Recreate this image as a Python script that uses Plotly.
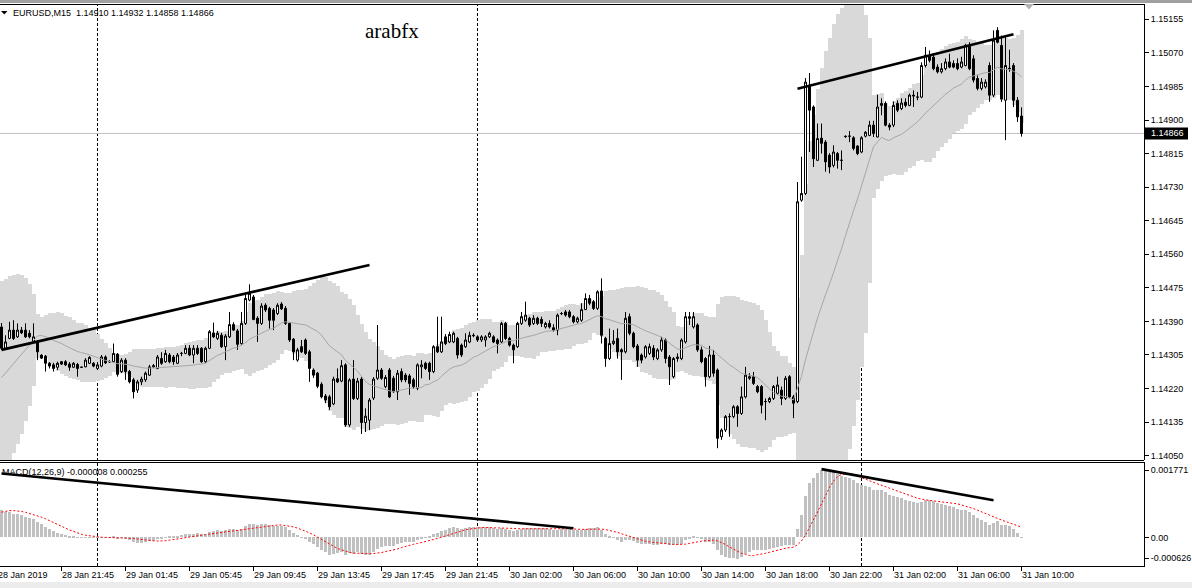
import numpy as np
import pandas as pd
import plotly.graph_objects as go

# ---------------- data ----------------
symbol = "EURUSD,M15"
start_time = "2019-01-28 18:00"
end_time = "2019-01-31 10:00"
missing_time = "2019-01-29 23:45"

open_ = [
1.14376, 1.14322, 1.14347, 1.14368, 1.14351, 1.14368, 1.14368, 1.14360, 1.14338, 1.14338,
1.14305, 1.14302, 1.14284, 1.14280, 1.14274, 1.14288, 1.14288, 1.14282, 1.14274, 1.14281,
1.14274, 1.14275, 1.14284, 1.14284, 1.14271, 1.14277, 1.14300, 1.14288, 1.14288, 1.14307,
1.14263, 1.14292, 1.14263, 1.14242, 1.14216, 1.14237, 1.14242, 1.14254, 1.14275, 1.14271,
1.14296, 1.14288, 1.14305, 1.14300, 1.14284, 1.14309, 1.14309, 1.14322, 1.14305, 1.14322,
1.14322, 1.14288, 1.14322, 1.14361, 1.14347, 1.14355, 1.14326, 1.14351, 1.14382, 1.14366,
1.14334, 1.14385, 1.14444, 1.14452, 1.14398, 1.14385, 1.14431, 1.14423, 1.14419, 1.14410,
1.14434, 1.14423, 1.14385, 1.14345, 1.14292, 1.14326, 1.14343, 1.14313, 1.14267, 1.14259,
1.14231, 1.14201, 1.14199, 1.14181, 1.14245, 1.14239, 1.14280, 1.14128, 1.14244, 1.14195,
1.14244, 1.14134, 1.14140, 1.14196, 1.14246, 1.14267, 1.14225, 1.14267, 1.14246, 1.14212,
1.14263, 1.14254, 1.14252, 1.14242, 1.14221, 1.14275, 1.14284, 1.14284, 1.14263, 1.14326,
1.14313, 1.14351, 1.14338, 1.14338, 1.14347, 1.14330, 1.14326, 1.14338, 1.14355, 1.14351,
1.14343, 1.14343, 1.14351, 1.14351, 1.14343, 1.14338, 1.14385, 1.14347, 1.14330, 1.14326,
1.14385, 1.14393, 1.14398, 1.14385, 1.14398, 1.14395, 1.14376, 1.14385, 1.14374, 1.14368,
1.14410, 1.14414, 1.14414, 1.14402, 1.14389, 1.14393, 1.14420, 1.14448, 1.14440, 1.14423,
1.14467, 1.14347, 1.14296, 1.14334, 1.14347, 1.14318, 1.14313, 1.14402, 1.14360, 1.14328,
1.14305, 1.14300, 1.14309, 1.14322, 1.14296, 1.14318, 1.14343, 1.14300, 1.14250, 1.14296,
1.14296, 1.14338, 1.14402, 1.14376, 1.14381, 1.14318, 1.14296, 1.14250, 1.14305, 1.14267,
1.14098, 1.14115, 1.14149, 1.14149, 1.14174, 1.14157, 1.14199, 1.14246, 1.14250, 1.14225,
1.14225, 1.14187, 1.14187, 1.14195, 1.14208, 1.14216, 1.14195, 1.14250, 1.14199, 1.14187,
1.14697, 1.14714, 1.14988, 1.14933, 1.14798, 1.14854, 1.14844, 1.14811, 1.14785, 1.14815,
1.14798, 1.14859, 1.14859, 1.14855, 1.14834, 1.14819, 1.14859, 1.14861, 1.14887, 1.14857,
1.14937, 1.14942, 1.14887, 1.14887, 1.14942, 1.14929, 1.14945, 1.14937, 1.14963, 1.14958,
1.14958, 1.15038, 1.15064, 1.15059, 1.15034, 1.15022, 1.15030, 1.15047, 1.15043, 1.15043,
1.15034, 1.15038, 1.15089, 1.15055, 1.15005, 1.14980, 1.14984, 1.15038, 1.14963, 1.15127,
1.15089, 1.14950, 1.15031, 1.15038, 1.14950, 1.14910,
]

high = [
1.14386, 1.14355, 1.14389, 1.14393, 1.14385, 1.14376, 1.14385, 1.14368, 1.14385, 1.14343,
1.14307, 1.14305, 1.14287, 1.14285, 1.14288, 1.14290, 1.14292, 1.14287, 1.14287, 1.14285,
1.14275, 1.14297, 1.14302, 1.14287, 1.14287, 1.14305, 1.14304, 1.14292, 1.14334, 1.14310,
1.14297, 1.14297, 1.14267, 1.14247, 1.14242, 1.14250, 1.14263, 1.14280, 1.14282, 1.14305,
1.14312, 1.14318, 1.14310, 1.14305, 1.14310, 1.14313, 1.14330, 1.14330, 1.14330, 1.14330,
1.14325, 1.14326, 1.14368, 1.14387, 1.14366, 1.14361, 1.14358, 1.14414, 1.14388, 1.14371,
1.14414, 1.14457, 1.14484, 1.14457, 1.14403, 1.14436, 1.14436, 1.14427, 1.14424, 1.14436,
1.14439, 1.14429, 1.14388, 1.14348, 1.14323, 1.14343, 1.14347, 1.14318, 1.14271, 1.14262,
1.14236, 1.14206, 1.14204, 1.14250, 1.14271, 1.14292, 1.14284, 1.14246, 1.14292, 1.14247,
1.14249, 1.14170, 1.14196, 1.14249, 1.14381, 1.14272, 1.14254, 1.14272, 1.14252, 1.14267,
1.14271, 1.14259, 1.14257, 1.14247, 1.14284, 1.14292, 1.14288, 1.14288, 1.14330, 1.14402,
1.14402, 1.14358, 1.14364, 1.14364, 1.14351, 1.14334, 1.14360, 1.14364, 1.14360, 1.14355,
1.14355, 1.14355, 1.14364, 1.14355, 1.14347, 1.14389, 1.14389, 1.14351, 1.14334, 1.14389,
1.14414, 1.14440, 1.14402, 1.14406, 1.14402, 1.14402, 1.14389, 1.14393, 1.14383, 1.14410,
1.14414, 1.14419, 1.14419, 1.14406, 1.14402, 1.14436, 1.14461, 1.14457, 1.14444, 1.14469,
1.14499, 1.14351, 1.14372, 1.14368, 1.14372, 1.14322, 1.14414, 1.14410, 1.14364, 1.14333,
1.14309, 1.14330, 1.14334, 1.14330, 1.14322, 1.14351, 1.14347, 1.14305, 1.14300, 1.14309,
1.14347, 1.14414, 1.14414, 1.14414, 1.14385, 1.14326, 1.14300, 1.14328, 1.14318, 1.14271,
1.14119, 1.14153, 1.14157, 1.14178, 1.14178, 1.14225, 1.14275, 1.14259, 1.14262, 1.14229,
1.14229, 1.14195, 1.14199, 1.14229, 1.14250, 1.14225, 1.14252, 1.14254, 1.14204, 1.14743,
1.14807, 1.15006, 1.15019, 1.14937, 1.14891, 1.14891, 1.14849, 1.14816, 1.14836, 1.14819,
1.14823, 1.14861, 1.14872, 1.14859, 1.14836, 1.14859, 1.14872, 1.14898, 1.14898, 1.14964,
1.14955, 1.14947, 1.14892, 1.14947, 1.14950, 1.14955, 1.14955, 1.14967, 1.14975, 1.14971,
1.15046, 1.15085, 1.15076, 1.15069, 1.15041, 1.15044, 1.15056, 1.15068, 1.15051, 1.15056,
1.15060, 1.15093, 1.15097, 1.15064, 1.15013, 1.15006, 1.15003, 1.15046, 1.15127, 1.15135,
1.15114, 1.15110, 1.15078, 1.15044, 1.14958, 1.14932,
]

low = [
1.14318, 1.14320, 1.14345, 1.14343, 1.14348, 1.14358, 1.14348, 1.14347, 1.14337, 1.14292,
1.14295, 1.14263, 1.14271, 1.14263, 1.14267, 1.14280, 1.14277, 1.14265, 1.14272, 1.14250,
1.14272, 1.14274, 1.14282, 1.14274, 1.14267, 1.14274, 1.14282, 1.14285, 1.14285, 1.14250,
1.14259, 1.14242, 1.14233, 1.14195, 1.14209, 1.14229, 1.14237, 1.14252, 1.14272, 1.14269,
1.14280, 1.14285, 1.14284, 1.14280, 1.14282, 1.14302, 1.14307, 1.14302, 1.14284, 1.14305,
1.14285, 1.14284, 1.14320, 1.14348, 1.14343, 1.14323, 1.14292, 1.14348, 1.14366, 1.14318,
1.14330, 1.14381, 1.14441, 1.14393, 1.14338, 1.14381, 1.14414, 1.14372, 1.14368, 1.14406,
1.14419, 1.14381, 1.14338, 1.14292, 1.14288, 1.14310, 1.14305, 1.14237, 1.14247, 1.14221,
1.14195, 1.14183, 1.14166, 1.14178, 1.14234, 1.14236, 1.14123, 1.14123, 1.14191, 1.14191,
1.14105, 1.14110, 1.14115, 1.14191, 1.14242, 1.14242, 1.14221, 1.14196, 1.14209, 1.14191,
1.14236, 1.14236, 1.14204, 1.14219, 1.14216, 1.14246, 1.14267, 1.14242, 1.14259, 1.14310,
1.14310, 1.14330, 1.14335, 1.14335, 1.14296, 1.14300, 1.14323, 1.14335, 1.14350, 1.14338,
1.14338, 1.14326, 1.14348, 1.14335, 1.14309, 1.14335, 1.14343, 1.14326, 1.14284, 1.14323,
1.14381, 1.14389, 1.14376, 1.14381, 1.14381, 1.14376, 1.14372, 1.14372, 1.14364, 1.14355,
1.14406, 1.14402, 1.14398, 1.14385, 1.14385, 1.14389, 1.14419, 1.14431, 1.14419, 1.14419,
1.14334, 1.14275, 1.14292, 1.14330, 1.14296, 1.14242, 1.14309, 1.14355, 1.14322, 1.14275,
1.14284, 1.14296, 1.14305, 1.14292, 1.14292, 1.14313, 1.14284, 1.14229, 1.14246, 1.14288,
1.14292, 1.14334, 1.14381, 1.14372, 1.14313, 1.14284, 1.14225, 1.14246, 1.14250, 1.14069,
1.14090, 1.14110, 1.14098, 1.14145, 1.14123, 1.14153, 1.14195, 1.14242, 1.14229, 1.14208,
1.14157, 1.14140, 1.14183, 1.14191, 1.14204, 1.14178, 1.14191, 1.14196, 1.14145, 1.14183,
1.14693, 1.14710, 1.14819, 1.14781, 1.14796, 1.14815, 1.14769, 1.14765, 1.14780, 1.14777,
1.14773, 1.14855, 1.14844, 1.14823, 1.14811, 1.14816, 1.14856, 1.14859, 1.14857, 1.14856,
1.14912, 1.14884, 1.14874, 1.14882, 1.14920, 1.14925, 1.14932, 1.14935, 1.14933, 1.14950,
1.14955, 1.15033, 1.15046, 1.15026, 1.15018, 1.15018, 1.15026, 1.15031, 1.15031, 1.15026,
1.15031, 1.15036, 1.15026, 1.14995, 1.14975, 1.14975, 1.14980, 1.14946, 1.14958, 1.15094,
1.14946, 1.14849, 1.15022, 1.14933, 1.14895, 1.14858,
]

close = [
1.14322, 1.14338, 1.14368, 1.14347, 1.14368, 1.14361, 1.14351, 1.14351, 1.14351, 1.14313,
1.14297, 1.14284, 1.14277, 1.14271, 1.14284, 1.14282, 1.14280, 1.14274, 1.14284, 1.14271,
1.14274, 1.14292, 1.14299, 1.14277, 1.14280, 1.14300, 1.14285, 1.14288, 1.14309, 1.14256,
1.14292, 1.14263, 1.14237, 1.14212, 1.14237, 1.14244, 1.14259, 1.14275, 1.14278, 1.14300,
1.14284, 1.14309, 1.14288, 1.14288, 1.14305, 1.14309, 1.14322, 1.14305, 1.14322, 1.14309,
1.14288, 1.14322, 1.14364, 1.14351, 1.14360, 1.14326, 1.14353, 1.14382, 1.14368, 1.14332,
1.14385, 1.14448, 1.14461, 1.14395, 1.14385, 1.14429, 1.14419, 1.14393, 1.14393, 1.14431,
1.14422, 1.14385, 1.14343, 1.14313, 1.14318, 1.14313, 1.14309, 1.14271, 1.14254, 1.14226,
1.14199, 1.14191, 1.14174, 1.14244, 1.14237, 1.14278, 1.14128, 1.14242, 1.14195, 1.14239,
1.14134, 1.14150, 1.14191, 1.14244, 1.14267, 1.14246, 1.14248, 1.14199, 1.14212, 1.14259,
1.14242, 1.14242, 1.14233, 1.14225, 1.14280, 1.14280, 1.14271, 1.14263, 1.14326, 1.14313,
1.14338, 1.14334, 1.14357, 1.14360, 1.14305, 1.14305, 1.14343, 1.14355, 1.14354, 1.14343,
1.14351, 1.14351, 1.14360, 1.14338, 1.14334, 1.14385, 1.14347, 1.14330, 1.14318, 1.14385,
1.14402, 1.14406, 1.14381, 1.14398, 1.14385, 1.14385, 1.14385, 1.14376, 1.14368, 1.14406,
1.14410, 1.14406, 1.14402, 1.14389, 1.14398, 1.14420, 1.14448, 1.14436, 1.14423, 1.14465,
1.14355, 1.14296, 1.14334, 1.14340, 1.14313, 1.14313, 1.14398, 1.14360, 1.14326, 1.14292,
1.14292, 1.14326, 1.14326, 1.14300, 1.14318, 1.14343, 1.14296, 1.14275, 1.14296, 1.14300,
1.14343, 1.14402, 1.14398, 1.14402, 1.14318, 1.14288, 1.14250, 1.14305, 1.14259, 1.14094,
1.14115, 1.14149, 1.14149, 1.14174, 1.14157, 1.14199, 1.14254, 1.14250, 1.14233, 1.14212,
1.14178, 1.14187, 1.14195, 1.14225, 1.14229, 1.14195, 1.14246, 1.14199, 1.14183, 1.14693,
1.14714, 1.14996, 1.14925, 1.14802, 1.14853, 1.14841, 1.14794, 1.14781, 1.14819, 1.14798,
1.14798, 1.14858, 1.14859, 1.14828, 1.14815, 1.14855, 1.14869, 1.14887, 1.14866, 1.14933,
1.14942, 1.14887, 1.14882, 1.14937, 1.14925, 1.14943, 1.14937, 1.14963, 1.14961, 1.14958,
1.15038, 1.15064, 1.15051, 1.15030, 1.15022, 1.15030, 1.15047, 1.15034, 1.15034, 1.15030,
1.15047, 1.15089, 1.15030, 1.15001, 1.14980, 1.14996, 1.14996, 1.14963, 1.15102, 1.15097,
1.14953, 1.15038, 1.15030, 1.14950, 1.14908, 1.14866,
]

# closes of the bars before the visible window (needed to warm up the indicators)
warm_close = [
1.14121, 1.14115, 1.14128, 1.14124, 1.14110, 1.14117, 1.14126, 1.14132, 1.14119, 1.14112,
1.14123, 1.14130, 1.14118, 1.14109, 1.14121, 1.14127, 1.14116, 1.14113, 1.14125, 1.14131,
1.14120, 1.14114, 1.14122, 1.14129, 1.14117, 1.14111, 1.14124, 1.14119, 1.14126, 1.14115,
1.14108, 1.14121, 1.14118, 1.14112, 1.14116, 1.14123, 1.14110, 1.14114, 1.14109, 1.14118,
1.14265, 1.14342, 1.14361, 1.14378, 1.14355, 1.14370, 1.14392, 1.14366, 1.14384, 1.14376,
]

price_ticks = [1.15155, 1.15070, 1.14985, 1.14900, 1.14815, 1.14730, 1.14645,
               1.14560, 1.14475, 1.14390, 1.14305, 1.14220, 1.14135, 1.14050]
macd_max_label = 0.001771
macd_min_label = -0.000626
macd_header = "MACD(12,26,9) -0.000008 0.000255"
watermark = "arabfx"

# user-drawn trend lines: (time, value) anchors
trend_price = [
    [("2019-01-28 18:00", 1.14318), ("2019-01-29 17:00", 1.14533)],
    [("2019-01-30 20:00", 1.14979), ("2019-01-31 09:30", 1.15117)],
]
trend_macd = [
    [("2019-01-28 18:00", 0.001563), ("2019-01-30 06:00", 0.000225)],
    [("2019-01-30 21:30", 0.001670), ("2019-01-31 08:15", 0.000908)],
]

# ---------------- derived ----------------
times = pd.date_range(start_time, end_time, freq="15min")
times = times[times != pd.Timestamp(missing_time)]
n = len(close)
idx = np.arange(n)
pos = {t: i for i, t in enumerate(times)}

nw = len(warm_close)
allc = pd.Series(warm_close + close)
ma = allc.rolling(20).mean()
sd = allc.rolling(20).std(ddof=0)
bb_mid = ma.values[nw:]
bb_up = (ma + 2 * sd).values[nw:]
bb_lo = (ma - 2 * sd).values[nw:]
ema12 = allc.ewm(span=12, adjust=False).mean()
ema26 = allc.ewm(span=26, adjust=False).mean()
macd_all = ema12 - ema26
sig_all = macd_all.rolling(9).mean()
macd = macd_all.values[nw:]
signal = sig_all.values[nw:]

# ---------------- layout geometry (pixels) ----------------
W, H = 1192, 588
ML, MR, MT, MB = 0, 48, 0, 22
PW, PH = W - ML - MR, H - MT - MB
BAR_PX = 4.0


def fx(x):
    return x / PW


def fy(y):
    return (PH - y) / PH


x0 = -1.5 / BAR_PX
x1 = x0 + PW / BAR_PX

MAIN_TOP, MAIN_BOT = 4, 460
SUB_TOP, SUB_BOT = 462, 566
# price scale: top/bottom tick label pixel rows
pk = (price_ticks[0] - price_ticks[-1]) / (455.7 - 19.3)


def price_at(y):
    return price_ticks[0] + (19.3 - y) * pk


mk = (macd_max_label - macd_min_label) / (563 - 465)


def macd_at(y):
    return macd_max_label - (y - 465) * mk


FONT = "Liberation Sans"
fs = 9

fig = go.Figure()

# Bollinger band fill (column per bar)
fig.add_trace(go.Bar(x=idx, y=bb_up - bb_lo, base=bb_lo, width=1.0,
                     marker=dict(color="#d9d9d9", line=dict(width=0)),
                     xaxis="x", yaxis="y", hoverinfo="skip"))
# Candles
fig.add_trace(go.Candlestick(
    x=idx, open=open_, high=high, low=low, close=close,
    increasing=dict(line=dict(color="black", width=1), fillcolor="white"),
    decreasing=dict(line=dict(color="black", width=1), fillcolor="black"),
    whiskerwidth=0, xaxis="x", yaxis="y", hoverinfo="skip"))
# BB middle line
fig.add_trace(go.Scatter(x=idx, y=bb_mid, mode="lines",
                         line=dict(color="#a6a6a6", width=1),
                         xaxis="x", yaxis="y", hoverinfo="skip"))
# trend lines on price
for seg in trend_price:
    fig.add_trace(go.Scatter(x=[pos[pd.Timestamp(t)] for t, _ in seg],
                             y=[v for _, v in seg], mode="lines",
                             line=dict(color="black", width=2.6),
                             xaxis="x", yaxis="y", hoverinfo="skip"))

# MACD histogram + signal
fig.add_trace(go.Bar(x=idx, y=macd, width=0.75,
                     marker=dict(color="#c0c0c0", line=dict(width=0)),
                     xaxis="x2", yaxis="y2", hoverinfo="skip"))
fig.add_trace(go.Scatter(x=idx, y=signal, mode="lines",
                         line=dict(color="#ff0000", width=1, dash="2px,2px"),
                         xaxis="x2", yaxis="y2", hoverinfo="skip"))
for seg in trend_macd:
    fig.add_trace(go.Scatter(x=[pos[pd.Timestamp(t)] for t, _ in seg],
                             y=[v for _, v in seg], mode="lines",
                             line=dict(color="black", width=2.6),
                             xaxis="x2", yaxis="y2", hoverinfo="skip"))

tick_idx = list(range(15, n, 16))
sep_idx = [i for i in range(1, n) if times[i].date() != times[i - 1].date()]

shapes = []
# day separators
for i in sep_idx:
    shapes.append(dict(type="line", xref="x", yref="paper", x0=i, x1=i,
                       y0=fy(SUB_BOT), y1=fy(MAIN_TOP), layer="below",
                       line=dict(color="black", width=1, dash="3px,2px")))
# bid line
shapes.append(dict(type="line", xref="paper", yref="y", x0=0, x1=1,
                   y0=close[-1], y1=close[-1], layer="below",
                   line=dict(color="#c0c0c0", width=1)))
# panel borders
for yy in (MAIN_TOP, MAIN_BOT, SUB_TOP):
    shapes.append(dict(type="line", xref="paper", yref="paper", x0=0, x1=1,
                       y0=fy(yy + 0.5), y1=fy(yy + 0.5),
                       line=dict(color="black", width=1)))
# window frame strips
shapes.append(dict(type="rect", xref="paper", yref="paper", x0=0, x1=W / PW,
                   y0=fy(0), y1=fy(3), fillcolor="#a0a0a0", line=dict(width=0)))
shapes.append(dict(type="rect", xref="paper", yref="paper", x0=0, x1=W / PW,
                   y0=fy(582), y1=fy(588), fillcolor="#ececec", line=dict(width=0)))
# chart shift marker
shapes.append(dict(type="path", xref="paper", yref="paper",
                   path=f"M {fx(1024)},{fy(4)} L {fx(1034)},{fy(4)} L {fx(1029)},{fy(9.5)} Z",
                   fillcolor="#b4b4b4", line=dict(width=0)))
# header triangle
shapes.append(dict(type="path", xref="paper", yref="paper",
                   path=f"M {fx(1)},{fy(11)} L {fx(7.5)},{fy(11)} L {fx(4.25)},{fy(14.5)} Z",
                   fillcolor="black", line=dict(width=0)))
# current price box
ypx_last = 19.3 + (price_ticks[0] - close[-1]) / pk
shapes.append(dict(type="rect", xref="paper", yref="y", x0=fx(1145), x1=fx(1188),
                   y0=price_at(ypx_last + 6), y1=price_at(ypx_last - 6),
                   fillcolor="black", line=dict(width=0)))

annotations = []
hdr = f"{symbol}\u00a0\u00a0{open_[-1]:.5f} {high[-1]:.5f} {low[-1]:.5f} {close[-1]:.5f}"
annotations.append(dict(text=hdr, xref="paper", yref="paper", x=fx(11), y=fy(13),
                        xanchor="left", yanchor="middle", showarrow=False,
                        font=dict(family=FONT, size=fs, color="black")))
annotations.append(dict(text=watermark, xref="paper", yref="paper", x=fx(392), y=fy(31),
                        xanchor="center", yanchor="middle", showarrow=False,
                        font=dict(family="Liberation Serif", size=21, color="black")))
annotations.append(dict(text=macd_header, xref="paper", yref="paper", x=fx(0), y=fy(472),
                        xanchor="left", yanchor="middle", showarrow=False,
                        font=dict(family=FONT, size=fs, color="black")))
annotations.append(dict(text=f"{close[-1]:.5f}", xref="paper", yref="y", x=fx(1149),
                        y=close[-1], xanchor="left", yanchor="middle", showarrow=False,
                        font=dict(family=FONT, size=fs, color="white")))
# time labels (text starts at the tick); the first one is partly off the left edge as in MT4
annotations.append(dict(text=f"{times[0]:%d %b %Y}", xref="paper", yref="paper",
                        x=fx(BAR_PX * (-1 - x0) - 2), y=fy(575), xanchor="left",
                        yanchor="middle", showarrow=False,
                        font=dict(family=FONT, size=fs, color="black")))
for i in tick_idx:
    annotations.append(dict(text=f"{times[i]:%d %b %H:%M}", xref="paper", yref="paper",
                            x=fx(BAR_PX * (i - x0) - 2), y=fy(575), xanchor="left",
                            yanchor="middle", showarrow=False,
                            font=dict(family=FONT, size=fs, color="black")))

fig.update_layout(
    width=W, height=H, margin=dict(l=ML, r=MR, t=MT, b=MB, pad=0),
    paper_bgcolor="white", plot_bgcolor="white", showlegend=False,
    hovermode=False, barmode="overlay", bargap=0, boxgap=0.5, boxgroupgap=0,
    xaxis=dict(domain=[0, 1], range=[x0, x1], anchor="y", showticklabels=False,
               showgrid=False, zeroline=False, ticks="", showline=False,
               rangeslider=dict(visible=False), fixedrange=True),
    xaxis2=dict(domain=[0, 1], range=[x0, x1], anchor="y2", showticklabels=False,
                showgrid=False, zeroline=False, ticks="outside", ticklen=4,
                tickcolor="black", tickwidth=1, tickvals=tick_idx,
                showline=True, linecolor="black", linewidth=1, fixedrange=True),
    yaxis=dict(domain=[fy(MAIN_BOT), fy(MAIN_TOP)],
               range=[price_at(MAIN_BOT), price_at(MAIN_TOP)], anchor="x", side="right",
               tickvals=price_ticks, ticktext=[f"{v:.5f}" for v in price_ticks],
               ticks="outside", ticklen=4, tickcolor="black", tickwidth=1,
               showline=True, linecolor="black", linewidth=1, showgrid=False,
               zeroline=False, tickfont=dict(family=FONT, size=fs, color="black"),
               fixedrange=True),
    yaxis2=dict(domain=[fy(SUB_BOT), fy(SUB_TOP)],
                range=[macd_at(SUB_BOT), macd_at(SUB_TOP)], anchor="x2", side="right",
                tickvals=[macd_at(470), 0.0, macd_at(558)],
                ticktext=[f"{macd_max_label:.6f}", "0.00", f"{macd_min_label:.6f}"],
                ticks="outside", ticklen=4, tickcolor="black", tickwidth=1,
                showline=True, linecolor="black", linewidth=1, showgrid=False,
                zeroline=False, tickfont=dict(family=FONT, size=fs, color="black"),
                fixedrange=True),
    shapes=shapes, annotations=annotations,
)

fig.write_html("out.html", config={"displayModeBar": False},
               post_script="document.body.style.margin='0';document.body.style.padding='0';")
